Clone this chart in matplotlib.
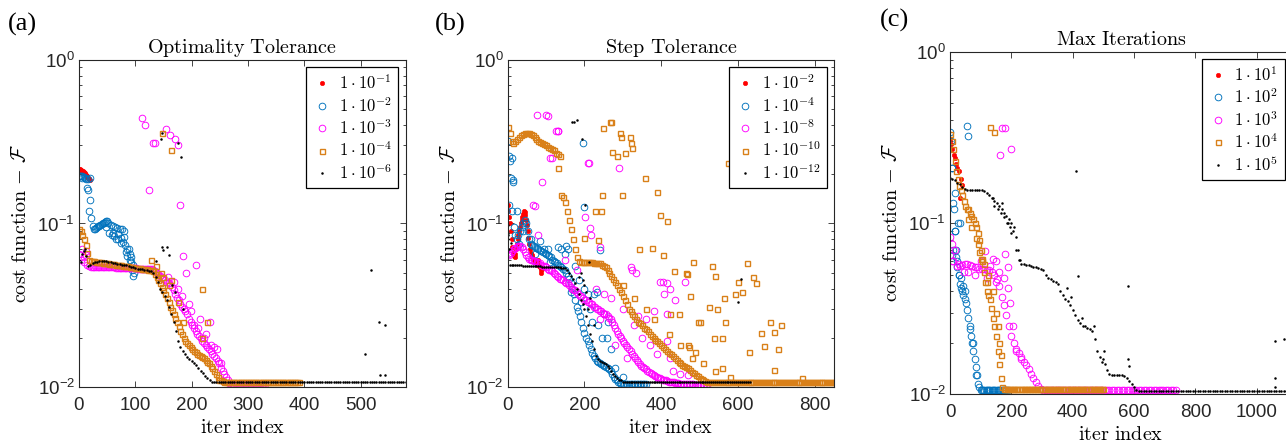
import numpy as np
import matplotlib
matplotlib.use('Agg')
import matplotlib.pyplot as plt
from matplotlib.font_manager import FontProperties
from matplotlib.ticker import LogLocator, NullFormatter

# ---------------- DATA (cost values in units of 1e-4) ----------------
E4 = 1e-4

# ---- Panel (a): Optimality Tolerance ----
a_title = 'Optimality\\ Tolerance'
a_labels = [r'$1\:\cdot\:10^{-1}$', r'$1\:\cdot\:10^{-2}$', r'$1\:\cdot\:10^{-3}$', r'$1\:\cdot\:10^{-4}$', r'$1\:\cdot\:10^{-6}$']
a_xticks = [0, 100, 200, 300, 400, 500]
a_xmax = 580

a_red_step = 1
a_red = [2150, 2140, 2130, 2120, 2110, 2100, 2090, 2080, 2060, 2050,
         2030, 2010, 1990, 1970, 1950, 1930, 1900, 1880, 1860, 1840]
a_red_ox, a_red_oy = [], []

a_blue_step = 2
a_blue = [1950, 1960, 1950, 1940, 1930, 1900, 1870, 1650, 1600, 1200,
          1400, 1080, 970, 920, 930, 940, 950, 960, 970, 980,
          990, 1000, 1010, 1020, 1040, 1030, 1000, 880, 980, 850,
          970, 840, 950, 800, 940, 860, 930, 820, 920, 770,
          900, 740, 670, 630, 700, 600, 580, 520, 480, 500]
a_blue_ox = [20, 6, 16, 48, 60, 70, 75, 80, 86, 90, 92, 95]
a_blue_oy = [1900, 1900, 1880, 950, 880, 800, 760, 830, 700, 650, 620, 560]

a_mag_step = 3
a_mag = [650, 600, 700, 580, 640, 560, 550,
         545, 545, 545, 545, 544, 544, 543, 543, 542, 542, 541, 541, 540, 540, 539, 538, 537, 536,
         535, 535, 534, 534, 533, 533, 532, 532, 531, 531, 530, 530, 529, 528, 528, 527, 527, 526, 525,
         520, 510, 500, 490, 480, 470, 460, 450, 440, 430, 420, 410, 390, 370, 350, 340, 320, 310,
         300, 290, 280, 260, 250, 240, 230, 220, 210, 205, 200, 190, 185, 180, 175, 170, 165, 160,
         155, 150, 145, 140, 130, 125, 120, 115, 110, 106,
         104, 104, 104, 104, 104, 104, 104, 104, 104, 104, 104, 104, 104, 104, 104, 104, 104, 104,
         104, 104, 104]
a_mag_ox = [111, 117, 131, 135, 155, 161, 170, 176, 124, 179, 185, 207, 190, 214, 232, 175,
            195, 205, 225, 235, 245, 8, 12, 158, 168, 182, 198, 212, 222, 240, 252]
a_mag_oy = [4400, 4000, 3100, 3100, 3800, 3500, 3300, 3000, 1600, 1300, 630, 560, 500, 260, 250, 400,
            320, 240, 210, 180, 170, 620, 680, 470, 440, 360, 290, 230, 200, 175, 140]

a_org_step = 3
a_org = [930, 900, 850, 800, 740, 660, 600,
         590, 588, 586, 584, 582, 580, 578, 576, 574, 572, 570, 568, 566, 564, 562, 560, 558, 556,
         554, 552, 550, 548, 546, 544, 542, 540, 538, 536, 534, 532, 530, 528, 526, 524, 522, 520, 518,
         510, 490, 470, 450, 430, 410, 390, 370, 350, 330, 310, 295, 280, 265, 250, 235, 220, 210,
         200, 192, 185, 180, 175, 170, 166, 163, 160, 157, 155, 152, 150, 147, 143, 140, 135, 130,
         125, 120, 115, 111, 110, 109,
         108, 108, 108, 108, 108, 108, 108, 108, 108, 108, 108, 108, 108, 108, 108, 108, 108, 108,
         108, 108, 108, 108, 108, 108, 108, 108, 108, 108, 108, 108, 108, 108, 108, 108, 108, 108,
         108, 108, 108, 108, 108, 108, 108, 108, 108]
a_org_ox = [148, 164, 127, 137, 146, 164, 218, 228, 218, 150, 160, 175, 185]
a_org_oy = [3600, 2800, 600, 550, 500, 450, 400, 250, 200, 470, 420, 330, 250]

a_blk_step = 4
a_blk = [600, 580, 680, 630,
         550, 560, 570, 580, 585, 590, 590, 592, 590, 585, 580, 575, 570, 567, 565, 560,
         557, 555, 550, 545, 540, 535, 530, 527, 525, 520, 518, 515, 510,
         500, 470, 440, 400, 380, 360, 340, 310, 280, 250, 220, 190, 175, 165, 160, 152,
         148, 145, 140, 136, 130, 126, 122, 117, 113, 110, 108,
         107, 107, 107, 107, 107, 107, 107, 107, 107, 107, 107, 107, 107, 107, 107, 107, 107, 107,
         107, 107, 107, 107, 107, 107, 107, 107, 107, 107, 107, 107, 107, 107, 107, 107, 107, 107,
         107, 107, 107, 107, 107, 107, 107, 107, 107, 107, 107, 107, 107, 107, 107, 107, 107, 107,
         107, 107, 107, 107, 107, 107, 107, 107, 107, 107, 107, 107, 107, 107, 107, 107, 107, 107,
         107, 107, 107, 107, 107, 107, 107, 107, 107, 107, 107, 107, 107, 107]
a_blk_ox = [147, 146, 175, 181, 157, 159, 519, 533, 543, 507, 534, 543, 530, 548, 136, 147,
            150, 165, 170, 185, 6, 10]
a_blk_oy = [3600, 3300, 3100, 2550, 720, 640, 520, 250, 240, 160, 118, 118, 2000, 1900, 590, 720,
            690, 420, 380, 300, 650, 700]

# ---- Panel (b): Step Tolerance ----
b_title = 'Step\\ Tolerance'
b_labels = [r'$1\:\cdot\:10^{-2}$', r'$1\:\cdot\:10^{-4}$', r'$1\:\cdot\:10^{-8}$', r'$1\:\cdot\:10^{-10}$', r'$1\:\cdot\:10^{-12}$']
b_xticks = [0, 200, 400, 600, 800]
b_xmax = 850

b_red_step = 2
b_red = [1300, 1200, 1100, 1000, 900, 800, 720, 660, 630, 620,
         650, 700, 750, 800, 850, 900, 950, 1000, 1050, 1100,
         1150, 1200, 1180, 1120, 1050, 980, 900, 820, 750, 700,
         660, 640, 620, 610, 600, 590, 580, 580, 570, 560,
         600, 550, 540, 520, 500, 530]
b_red_ox, b_red_oy = [], []

b_blue_step = 4
b_blue = [3200, 2600, 1900, 1200, 950, 850, 800, 850, 900, 950,
          1000, 1050, 1000, 900, 800, 750, 740, 730, 720, 710,
          700, 690, 680, 670, 660, 650, 640, 630, 620, 600,
          590, 580, 570, 560, 550, 540, 530, 520, 500, 480,
          460, 430, 400, 370, 340, 310, 290, 270, 250, 230,
          215, 200, 190, 180, 170, 162, 155, 150, 145, 142,
          140, 138, 136, 134, 132, 130, 128, 125, 120, 115,
          112, 110, 108, 106, 104, 104, 104, 104, 104, 104,
          104, 104, 104, 104, 104, 104, 104, 104, 104, 104, 104]
b_blue_ox = [196, 198, 5, 10, 13, 15, 3, 25, 130, 140, 210, 225, 235, 250, 260, 110, 150, 175, 185, 200,
             215, 245, 270, 165, 190, 84, 95, 105, 153, 157, 232, 240, 258, 60, 70, 30, 40, 220, 280, 300]
b_blue_oy = [3100, 1270, 2400, 2500, 1800, 1850, 1300, 1200, 720, 700, 370, 370, 240, 280, 250, 580, 650, 550, 450, 400,
             300, 200, 170, 380, 330, 780, 700, 700, 730, 700, 380, 690, 200, 800, 650, 750, 900, 250, 130, 115]

b_mag_step = 4
b_mag = [650, 640, 660, 680, 700, 710, 720, 730, 730, 720,
         700, 670, 640, 620, 610, 600, 600, 590, 590, 580,
         570, 570, 560, 550, 550, 540, 530, 520, 520, 510,
         500, 490, 480, 470, 460, 460, 450, 440, 430, 430,
         420, 410, 400, 390, 390, 380, 370, 360, 360, 350,
         340, 340, 330, 330, 320, 320, 310, 310, 300, 300,
         290, 290, 285, 280, 280, 270, 265, 260, 250, 240,
         230, 220, 210, 205, 200, 190, 185, 180, 175, 170,
         165, 160, 155, 150, 146, 142, 138, 135, 132, 130,
         128, 126, 124, 122, 120, 118, 116, 115, 114, 113,
         112, 111, 110, 110, 109, 108, 108, 107, 107, 106,
         106, 106, 105, 105, 105, 105, 104, 104, 104, 104,
         104, 104, 103, 103, 103, 103, 103, 103, 103, 103, 103]
b_mag_ox = [76, 99, 105, 127, 130, 110, 209, 212, 290, 89, 72, 201, 214, 218, 240, 320, 325, 334, 397, 405,
            415, 423, 407, 435, 461, 380, 415, 415, 423, 150, 180, 230, 250, 270, 300, 330, 350, 370, 390, 430,
            450, 470, 240, 280, 310, 66, 78, 115, 132, 360, 340]
b_mag_oy = [4600, 4600, 4550, 3700, 3700, 2500, 2350, 2350, 2200, 1800, 1280, 1100, 940, 850, 720, 540, 520, 500, 440, 440,
            430, 400, 370, 340, 440, 290, 280, 190, 150, 600, 520, 400, 370, 350, 300, 240, 200, 180, 160, 125,
            120, 118, 260, 180, 150, 1300, 850, 2500, 3700, 260, 270]

b_org_step = 5
b_org = [3900, 3600, 3200, 3100, 3200, 3300, 3400, 3500, 3550, 3600,
         3600, 3600, 3550, 3500, 3400, 3300, 3200, 3150, 3100, 3050,
         3000, 2950, 2900, 2850, 2800, 2700, 2650, 2600,
         1500, 1450, 1350, 1200, 1050, 920, 800, 700, 620, 590,
         580, 580, 580, 580, 580, 580, 580, 570, 570, 570,
         570, 560, 550, 540, 520, 500, 480, 460, 440, 420,
         400, 380, 360, 340, 320, 300, 290, 280, 270, 260,
         250, 245, 240, 230, 225, 220, 210, 205, 200, 195,
         190, 185, 180, 175, 170, 165, 162, 160, 155, 150,
         147, 143, 140, 137, 134, 132, 130, 127, 124, 121,
         118, 116, 114, 112, 110, 109,
         108, 108, 108, 108, 108, 108, 108, 108, 108, 108, 108, 108, 108, 108, 108, 108, 108, 108,
         108, 108, 108, 108, 108, 108, 108, 108, 108, 108, 108, 108, 108, 108, 108, 108, 108, 108,
         108, 108, 108, 108, 108, 108, 108, 108, 108, 108, 108, 108, 108, 108, 108, 108, 108, 108,
         108, 108, 108, 108, 108, 108, 108, 108, 108, 108, 108, 108, 108]
b_org_ox = [249, 266, 270, 292, 295, 318, 320, 325, 273, 286, 306, 357, 388, 245, 299, 227, 242, 396, 414, 199,
            235, 342, 377, 405, 433, 464, 466, 483, 531, 540, 624, 639, 648, 600, 610, 592, 563, 525, 546, 476,
            446, 422, 496, 500, 565, 683, 711, 694, 659, 537, 557, 668, 703, 629, 470, 473, 488, 557, 694, 766,
            574, 130, 300, 330, 360, 380, 420, 450, 480, 510, 540, 580]
b_org_oy = [3820, 4200, 4200, 3600, 3400, 3400, 3100, 2900, 2750, 2600, 2700, 1900, 1560, 1500, 1500, 1200, 1200, 1130, 1040, 810,
            790, 700, 710, 640, 510, 500, 490, 580, 550, 480, 570, 470, 430, 440, 380, 370, 350, 310, 300, 360,
            280, 280, 250, 250, 250, 250, 240, 216, 213, 200, 200, 177, 170, 163, 180, 176, 164, 130, 127, 113,
            2330, 2200, 420, 350, 300, 260, 210, 180, 150, 140, 125, 115]

b_blk_step = 5
b_blk = [850, 560, 555, 555, 555, 555, 555, 555, 550, 550,
         550, 550, 550, 550, 548, 548, 546, 546, 545, 545,
         545, 544, 543, 542, 542, 541, 540, 540, 538, 536,
         535, 520, 500, 480, 460, 430, 400, 370, 340, 320,
         300, 270, 240, 210, 190, 170, 155, 148, 145, 143,
         140, 138, 135, 130, 125, 120, 116, 113, 111, 110,
         107, 107, 107, 107, 107, 107, 107, 107, 107, 107, 107, 107, 107, 107, 107, 107, 107, 107,
         107, 107, 107, 107, 107, 107, 107, 107, 107, 107, 107, 107, 107, 107, 107, 107, 107, 107,
         107, 107, 107, 107, 107, 107, 107, 107, 107, 107, 107, 107, 107, 107, 107, 107, 107, 107,
         107, 107, 107, 107, 107, 107, 107, 107, 107, 107, 107, 107, 107]
b_blk_ox = [0, 2, 4, 167, 172, 180, 194, 201, 212, 609, 600, 190, 195, 205, 215, 185, 200, 210, 225, 2, 8]
b_blk_oy = [980, 880, 700, 4200, 4200, 4300, 3300, 1300, 580, 460, 330, 500, 450, 380, 350, 470, 420, 300, 240, 800, 760]

# ---- Panel (c): Max Iterations ----
c_title = 'Max\\ Iterations'
c_labels = [r'$1\:\cdot\:10^{1}$', r'$1\:\cdot\:10^{2}$', r'$1\:\cdot\:10^{3}$', r'$1\:\cdot\:10^{4}$', r'$1\:\cdot\:10^{5}$']
c_xticks = [0, 200, 400, 600, 800, 1000]
c_xmax = 1115

c_red_step = 4
c_red = [3100, 2900, 2700, 2500, 2400, 2200, 2100, 2000, 1400, 1800, 1660]
c_red_ox, c_red_oy = [], []

c_blue_step = 4
c_blue = [3400, 3000, 2100, 1200, 900, 700, 600, 500, 440, 420,
          400, 380, 360, 340, 310, 280, 250, 220, 200, 180,
          160, 145, 130, 115, 110, 106, 106, 106, 106, 106,
          106, 106, 106, 106, 106, 106, 106, 106, 106, 106, 106, 106, 106, 106, 106, 106, 106, 106]
c_blue_ox = [54, 60, 5, 16, 27, 33, 16, 10, 5, 10, 20, 30, 50, 65, 75, 85, 22, 36, 44]
c_blue_oy = [3700, 3200, 2100, 1500, 1000, 1000, 900, 1300, 650, 700, 630, 500, 400, 240, 200, 130, 550, 480, 430]

c_mag_step = 8
c_mag = [650, 600, 700, 560, 560, 570, 580, 580, 570, 560,
         550, 550, 540, 540, 540, 530, 530, 520, 500, 470,
         430, 370, 330, 290, 250, 220, 200, 185, 175, 165,
         155, 148, 140, 132, 125, 118, 112, 108,
         106, 106, 106, 106, 106, 106, 106, 106, 106, 106, 106, 106, 106, 106, 106, 106, 106, 106,
         106, 106, 106, 106, 106, 106, 106, 106, 106, 106, 106, 106, 106, 106, 106, 106, 106, 106,
         106, 106, 106, 106, 106, 106, 106, 106, 106, 106, 106, 106, 106, 106, 106, 106, 106, 106, 106]
c_mag_ox = [168, 180, 163, 198, 0, 5, 115, 140, 180, 190, 150, 190, 195, 175, 100, 60, 80, 120, 150, 205,
            215, 230, 10, 30, 45, 130, 160]
c_mag_oy = [3570, 3570, 2500, 2700, 830, 750, 690, 620, 660, 550, 600, 420, 340, 480, 600, 520, 500, 480, 450, 250,
            180, 160, 600, 580, 520, 560, 520]

c_org_step = 5
c_org = [3300, 3000, 2700, 2300, 2000, 1800, 1650, 1550, 1450, 1350,
         1250, 1200, 1200, 1150, 1100, 1050, 1000, 950, 880, 800,
         700, 600, 520, 450, 400, 380, 360, 320, 280, 250,
         220, 180, 150, 125, 110,
         107, 107, 107, 107, 107, 107, 107, 107, 107, 107, 107, 107, 107, 107, 107, 107, 107, 107,
         107, 107, 107, 107, 107, 107, 107, 107, 107, 107, 107, 107, 107, 107, 107, 107, 107, 107,
         107, 107, 107, 107, 107, 107, 107, 107, 107, 107, 107, 107, 107, 107, 107, 107, 107, 107,
         107, 107, 107, 107, 107, 107, 107, 107, 107, 107, 107, 107]
c_org_ox = [130, 143, 90, 95, 100, 110, 125, 140, 150, 155, 160, 165, 60, 70, 85, 105, 120]
c_org_oy = [3650, 3400, 750, 680, 620, 580, 500, 400, 300, 250, 200, 170, 1050, 950, 820, 620, 450]

c_blk_step = 8
c_blk = [1830, 1800, 1780, 1720, 1680, 1620, 1580, 1560, 1550, 1550,
         1560, 1560, 1550, 1550, 1530, 1500, 1450, 1400, 1350, 1300,
         1250, 1200, 1150, 1100, 1050, 1000, 950, 700, 610, 580,
         575, 570, 565, 560, 555, 550, 545, 540, 530, 500,
         480, 470, 460, 450, 440, 400, 380, 360, 350, 330,
         310, 290, 270, 260, 250, 250, 245, 240, 235, 210,
         180, 165, 155, 150, 138, 132, 130, 130, 130, 129,
         129, 128, 125, 120, 115, 110, 106,
         104, 104, 104, 104, 104, 104, 104, 104, 104, 104, 104, 104, 104, 104, 104, 104, 104, 104,
         104, 104, 104, 104, 104, 104, 104, 104, 104, 104, 104, 104, 104, 104, 104, 104, 104, 104,
         104, 104, 104, 104, 104, 104, 104, 104, 104, 104, 104, 104, 104, 104, 104, 104, 104, 104,
         104, 104, 104, 104, 104, 104, 104, 104]
c_blk_ox = [411, 418, 581, 503, 580, 584, 1060, 1090, 1060, 1060, 222, 228, 380, 395, 430, 470, 500, 145, 155, 165,
            175, 185, 195, 205, 215, 200, 190, 140, 170]
c_blk_oy = [2000, 490, 430, 180, 160, 146, 205, 210, 125, 110, 700, 610, 420, 370, 280, 250, 160, 1250, 1200, 1150,
            1080, 1000, 950, 900, 830, 880, 1000, 1400, 1300]

# ---------------- STYLE ----------------
plt.rcParams['font.family'] = ['Liberation Sans', 'DejaVu Sans']
plt.rcParams['mathtext.fontset'] = 'dejavusans'
GRAY = '#262626'
STYLES = [
    dict(marker='o', ms=3.2, mfc='#FF0000', mec='#FF0000', mew=0.4),
    dict(marker='o', ms=4.8, mfc='none', mec='#0072BD', mew=0.65),
    dict(marker='o', ms=4.8, mfc='none', mec='#FF00FF', mew=0.65),
    dict(marker='s', ms=3.6, mfc='none', mec='#D98019', mew=1.0),
    dict(marker='o', ms=1.8, mfc='k', mec='k', mew=0.0),
]
TXT = 14.5


def series_xy(step, traj, ox, oy):
    x = np.concatenate([np.arange(len(traj)) * step, np.asarray(ox, dtype=float)])
    y = np.concatenate([np.asarray(traj, dtype=float), np.asarray(oy, dtype=float)]) * E4
    return x, y


def panel(ax, series, labels, title, xticks, xmax):
    handles = []
    for (step, traj, ox, oy), st, lab in zip(series, STYLES, labels):
        x, y = series_xy(step, traj, ox, oy)
        h, = ax.plot(x, y, linestyle='none', label=lab, **st)
        handles.append(h)
    ax.set_yscale('log')
    ax.set_ylim(1e-2, 1)
    ax.set_xlim(0, xmax)
    ax.set_xticks(xticks)
    ax.yaxis.set_major_locator(LogLocator(base=10, numticks=10))
    ax.yaxis.set_minor_locator(LogLocator(base=10, subs=np.arange(2, 10), numticks=10))
    ax.yaxis.set_minor_formatter(NullFormatter())
    ax.tick_params(which='both', direction='in', top=True, right=True, colors=GRAY, labelsize=13.5)
    ax.tick_params(which='major', length=4, width=0.6)
    ax.tick_params(which='minor', length=2.5, width=0.6)
    ax.tick_params(axis='x', pad=7)
    ax.tick_params(axis='y', pad=3)
    for s in ax.spines.values():
        s.set_color(GRAY)
        s.set_linewidth(0.8)
    ax.set_title('$\\mathrm{' + title + '}$', fontsize=TXT, math_fontfamily='cm', pad=5)
    ax.set_xlabel(r'$\mathrm{iter\ index}$', fontsize=TXT, math_fontfamily='cm', labelpad=3)
    ax.set_ylabel(r'$\mathrm{cost\ function}\ {-}\ \mathcal{F}$', fontsize=TXT, math_fontfamily='cm', labelpad=5)
    leg = ax.legend(handles=handles, loc='upper right', numpoints=1, frameon=True, fancybox=False,
                    framealpha=1, edgecolor='k', borderaxespad=0.45, borderpad=0.35,
                    handlelength=1.2, handletextpad=0.4, labelspacing=0.22,
                    prop=FontProperties(size=12, math_fontfamily='cm'))
    leg.get_frame().set_linewidth(0.9)


fig = plt.figure(figsize=(12.86, 4.44), dpi=100)
W, H = 1286.0, 444.0
ax_a = fig.add_axes([79 / W, 57 / H, 326.7 / W, 327 / H])
ax_b = fig.add_axes([507.7 / W, 57 / H, 326.3 / W, 327 / H])
ax_c = fig.add_axes([950 / W, 49.7 / H, 342 / W, 342.6 / H])

panel(ax_a, [(a_red_step, a_red, a_red_ox, a_red_oy),
             (a_blue_step, a_blue, a_blue_ox, a_blue_oy),
             (a_mag_step, a_mag, a_mag_ox, a_mag_oy),
             (a_org_step, a_org, a_org_ox, a_org_oy),
             (a_blk_step, a_blk, a_blk_ox, a_blk_oy)], a_labels, a_title, a_xticks, a_xmax)
panel(ax_b, [(b_red_step, b_red, b_red_ox, b_red_oy),
             (b_blue_step, b_blue, b_blue_ox, b_blue_oy),
             (b_mag_step, b_mag, b_mag_ox, b_mag_oy),
             (b_org_step, b_org, b_org_ox, b_org_oy),
             (b_blk_step, b_blk, b_blk_ox, b_blk_oy)], b_labels, b_title, b_xticks, b_xmax)
panel(ax_c, [(c_red_step, c_red, c_red_ox, c_red_oy),
             (c_blue_step, c_blue, c_blue_ox, c_blue_oy),
             (c_mag_step, c_mag, c_mag_ox, c_mag_oy),
             (c_org_step, c_org, c_org_ox, c_org_oy),
             (c_blk_step, c_blk, c_blk_ox, c_blk_oy)], c_labels, c_title, c_xticks, c_xmax)

for lab, xp, yp in [('(a)', 8, 24), ('(b)', 435, 24), ('(c)', 880, 20)]:
    fig.text(xp / W, 1 - yp / H, lab, family='Liberation Serif', fontsize=19, va='center', ha='left')

fig.savefig('out.png', dpi=100)
